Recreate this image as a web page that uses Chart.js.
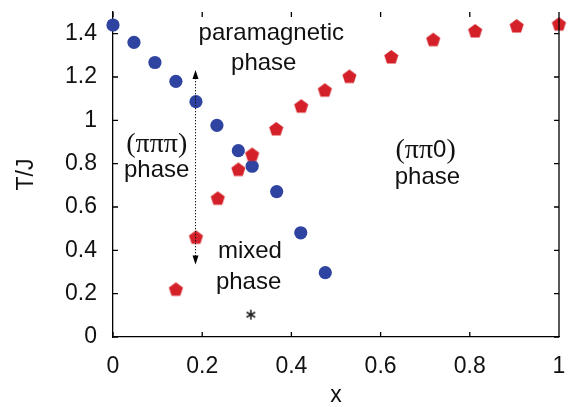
<!DOCTYPE html>
<html>
<head>
<meta charset="utf-8">
<script src="https://cdn.jsdelivr.net/npm/chart.js@4/dist/chart.umd.min.js"></script>
<style>
  html, body { margin: 0; padding: 0; background: #fff; }
  #wrap { width: 576px; height: 407px; }
</style>
</head>
<body>
<div id="wrap"><canvas id="phaseChart"></canvas></div>
<script>
// transition temperatures T/J against doping x
const xCircle = [0, 0.047, 0.094, 0.141, 0.186, 0.233, 0.281, 0.312, 0.367, 0.421, 0.476];
const tCircle = [1.44, 1.36, 1.267, 1.18, 1.086, 0.977, 0.86, 0.788, 0.671, 0.481, 0.297];

const xPenta = [0.141, 0.186, 0.235, 0.281, 0.312, 0.366, 0.422, 0.475, 0.53, 0.624, 0.718, 0.812, 0.905, 1.0];
const tPenta = [0.218, 0.458, 0.638, 0.771, 0.84, 0.958, 1.063, 1.137, 1.2, 1.29, 1.37, 1.41, 1.433, 1.442];

const xStar = [0.309];
const tStar = [0.103];

const xTicks = [0, 0.2, 0.4, 0.6, 0.8, 1];
const yTicks = [0, 0.2, 0.4, 0.6, 0.8, 1, 1.2, 1.4];

// region labels, [x, T, text, font]
const regionLabels = [
  [0.355, 1.40, 'paramagnetic', 'sans'],
  [0.338, 1.262, 'phase', 'sans'],
  [0.098, 0.888, '(πππ)', 'serif'],
  [0.098, 0.768, 'phase', 'sans'],
  [0.701, 0.860, '(ππ0)', 'mix'],
  [0.705, 0.736, 'phase', 'sans'],
  [0.307, 0.395, 'mixed', 'sans'],
  [0.304, 0.252, 'phase', 'sans']
];

// double arrow across the mixed region
const arrowX = 0.185;
const arrowTop = 1.232;
const arrowBottom = 0.335;

const RED = '#d42129';
const BLUE = '#2f44a0';
const SANS = '"Liberation Sans", Arial, Helvetica, sans-serif';
const SERIF = '"Liberation Serif", "Times New Roman", serif';

function pentagonImage(r, color) {
  const size = Math.ceil(r * 2 + 2);
  const c = document.createElement('canvas');
  c.width = size; c.height = size;
  const g = c.getContext('2d');
  g.fillStyle = color;
  g.beginPath();
  for (let i = 0; i < 5; i++) {
    const a = -Math.PI / 2 + i * 2 * Math.PI / 5;
    const px = size / 2 + r * Math.cos(a);
    const py = size / 2 + r * Math.sin(a);
    if (i === 0) g.moveTo(px, py); else g.lineTo(px, py);
  }
  g.closePath();
  g.fill();
  return c;
}

function asteriskImage(r) {
  const size = Math.ceil(r * 2 + 2);
  const c = document.createElement('canvas');
  c.width = size; c.height = size;
  const g = c.getContext('2d');
  g.strokeStyle = '#222';
  g.lineWidth = 1.5;
  g.beginPath();
  for (let i = 0; i < 3; i++) {
    const a = Math.PI / 2 + i * Math.PI / 3;
    g.moveTo(size / 2 + r * Math.cos(a), size / 2 + r * Math.sin(a));
    g.lineTo(size / 2 - r * Math.cos(a), size / 2 - r * Math.sin(a));
  }
  g.stroke();
  return c;
}

function toPoints(xs, ys) {
  return xs.map((x, i) => ({ x: x, y: ys[i] }));
}

// inward ticks on all four sides, right frame line, arrow and labels
const framePlugin = {
  id: 'frame',
  afterDatasetsDraw(chart) {
    const { ctx, chartArea: a, scales: { x, y } } = chart;
    const tl = 5;
    ctx.save();
    ctx.strokeStyle = '#000';
    ctx.lineWidth = 1.3;
    ctx.beginPath();
    ctx.moveTo(a.right, a.top);
    ctx.lineTo(a.right, a.bottom);
    xTicks.forEach(v => {
      const px = x.getPixelForValue(v);
      ctx.moveTo(px, a.bottom); ctx.lineTo(px, a.bottom - tl);
      ctx.moveTo(px, a.top); ctx.lineTo(px, a.top + tl);
    });
    yTicks.forEach(v => {
      const py = y.getPixelForValue(v);
      ctx.moveTo(a.left, py); ctx.lineTo(a.left + tl, py);
      ctx.moveTo(a.right, py); ctx.lineTo(a.right - tl, py);
    });
    ctx.stroke();

    // dotted double arrow
    const ax = x.getPixelForValue(arrowX);
    const y1 = y.getPixelForValue(arrowTop);
    const y2 = y.getPixelForValue(arrowBottom);
    ctx.lineWidth = 1;
    ctx.setLineDash([1.2, 1.8]);
    ctx.beginPath();
    ctx.moveTo(ax, y1 + 8);
    ctx.lineTo(ax, y2 - 8);
    ctx.stroke();
    ctx.setLineDash([]);
    ctx.fillStyle = '#000';
    ctx.beginPath();
    ctx.moveTo(ax, y1); ctx.lineTo(ax - 3, y1 + 9); ctx.lineTo(ax + 3, y1 + 9);
    ctx.closePath();
    ctx.moveTo(ax, y2); ctx.lineTo(ax - 3, y2 - 9); ctx.lineTo(ax + 3, y2 - 9);
    ctx.closePath();
    ctx.fill();

    // region labels
    ctx.fillStyle = '#111';
    ctx.textBaseline = 'middle';
    regionLabels.forEach(([vx, vy, text, kind]) => {
      const px = x.getPixelForValue(vx);
      const py = y.getPixelForValue(vy);
      if (kind === 'mix') {
        // parentheses and pi in serif, zero in sans
        const parts = [['(ππ', '28px ' + SERIF], ['0', '24px ' + SANS], [')', '28px ' + SERIF]];
        const widths = parts.map(([t, f]) => { ctx.font = f; return ctx.measureText(t).width; });
        let cx = px - widths.reduce((s, w) => s + w, 0) / 2;
        ctx.textAlign = 'left';
        parts.forEach(([t, f], i) => {
          ctx.font = f;
          ctx.fillText(t, cx, py);
          cx += widths[i];
        });
      } else {
        ctx.textAlign = 'center';
        ctx.font = kind === 'serif' ? '28px ' + SERIF : '24px ' + SANS;
        ctx.fillText(text, px, py);
      }
    });
    ctx.restore();
  }
};

Chart.defaults.font.family = SANS;
Chart.defaults.color = '#111';

const ctx = document.getElementById('phaseChart').getContext('2d');
const phaseChart = new Chart(ctx, {
  type: 'scatter',
  data: {
    datasets: [
      {
        label: 'ππ0',
        data: toPoints(xPenta, tPenta),
        pointStyle: pentagonImage(7.4, RED),
        clip: false,
      },
      {
        label: 'πππ',
        data: toPoints(xCircle, tCircle),
        pointStyle: 'circle',
        pointRadius: 6.6,
        pointHoverRadius: 6.6,
        backgroundColor: BLUE,
        borderColor: BLUE,
        borderWidth: 0,
        clip: false,
      },
      {
        label: 'mixed',
        data: toPoints(xStar, tStar),
        pointStyle: asteriskImage(5),
        clip: false,
      },
    ],
  },
  options: {
    responsive: true,
    maintainAspectRatio: false,
    animation: false,
    layout: { padding: { top: 12, right: 17, left: 0, bottom: 0 } },
    plugins: {
      legend: { display: false },
      tooltip: { enabled: false },
    },
    scales: {
      x: {
        type: 'linear',
        min: 0,
        max: 1,
        afterBuildTicks: s => { s.ticks = xTicks.map(v => ({ value: v })); },
        afterFit: s => { s.height = 70; s.paddingLeft = 0; s.paddingRight = 0; },
        grid: { display: true, drawOnChartArea: false, drawTicks: false },
        border: { display: true, color: '#000', width: 1.3 },
        ticks: {
          font: { size: 23 },
          padding: 16,
          maxRotation: 0,
          callback: v => String(v),
        },
        title: {
          display: true,
          text: 'x',
          font: { size: 23, lineHeight: 1 },
          padding: { top: 0, bottom: 0 },
        },
      },
      y: {
        type: 'linear',
        min: 0,
        max: 1.5,
        afterBuildTicks: s => { s.ticks = yTicks.map(v => ({ value: v })); },
        afterFit: s => { s.width = 113; s.paddingTop = 0; s.paddingBottom = 0; },
        grid: { display: true, drawOnChartArea: false, drawTicks: false },
        border: { display: true, color: '#000', width: 1.3 },
        ticks: {
          font: { size: 23 },
          padding: 16,
          callback: v => String(v),
        },
        title: {
          display: true,
          text: 'T/J',
          font: { size: 23, lineHeight: 1 },
          padding: { top: 15, bottom: 0 },
        },
      },
    },
  },
  plugins: [framePlugin],
});
</script>
</body>
</html>
